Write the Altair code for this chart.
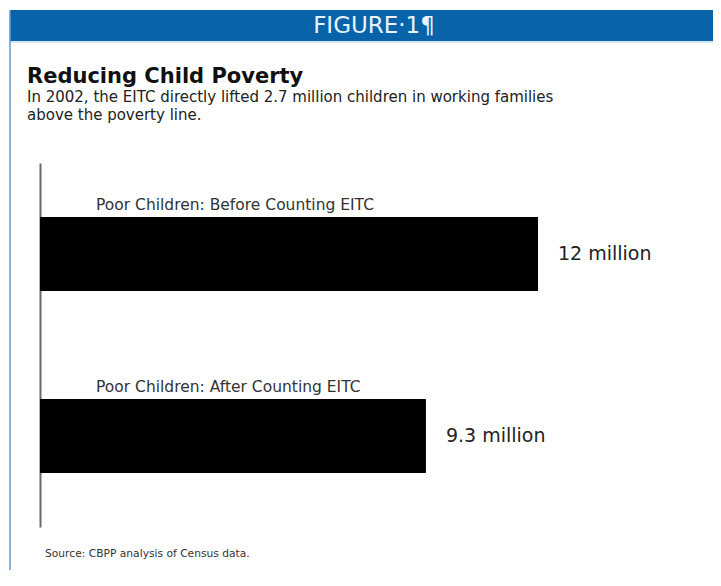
import altair as alt
import pandas as pd

# ---- data ----
categories = ["Poor Children: Before Counting EITC", "Poor Children: After Counting EITC"]
values = [12, 9.3]
value_labels = ["12 million", "9.3 million"]

header_text = ["FIGURE·1¶"]
title_text = ["Reducing Child Poverty"]
subtitle_lines = [
    "In 2002, the EITC directly lifted 2.7 million children in working families",
    "above the poverty line.",
]
source_text = ["Source: CBPP analysis of Census data."]

df = pd.DataFrame({"label": categories, "value": values, "display": value_labels})

FONT = "DejaVu Sans"
BLUE = "#0863a9"

x_enc = alt.X("value:Q", scale=alt.Scale(domain=[0, 16], nice=False), axis=None)
y_enc = alt.Y(
    "label:N",
    sort=None,
    scale=alt.Scale(paddingInner=0.593, paddingOuter=0.297),
    axis=alt.Axis(labels=False, ticks=False, title=None, grid=False,
                  domain=True, domainColor="#6a6a6a", domainWidth=2),
)

bars = alt.Chart(df).mark_bar(color="#000000").encode(x=x_enc, y=y_enc)

cat_labels = alt.Chart(df).mark_text(
    align="left", baseline="alphabetic", dx=56, dy=-44,
    fontSize=15.5, font=FONT, color="#333333"
).encode(x=alt.datum(0), y=alt.Y("label:N", sort=None), text="label:N")

val_labels = alt.Chart(df).mark_text(
    align="left", baseline="middle", dx=20,
    fontSize=19, font=FONT, color="#222222"
).encode(x="value:Q", y=alt.Y("label:N", sort=None), text="display:N")

# ---- decoration ----
one = pd.DataFrame({"k": [0]})
band = alt.Chart(one).mark_rect(color=BLUE).encode(
    x=alt.value(-30), x2=alt.value(675), y=alt.value(-153), y2=alt.value(-122)
)
band_line = alt.Chart(one).mark_rule(color="#a9d1ea", strokeWidth=1).encode(
    x=alt.value(-30), x2=alt.value(675), y=alt.value(-121)
)
left_border = alt.Chart(one).mark_rule(color="#5d9ccf", strokeWidth=1.5).encode(
    x=alt.value(-30), y=alt.value(-153), y2=alt.value(410)
)

header = alt.Chart(pd.DataFrame({"t": header_text})).mark_text(
    align="center", baseline="alphabetic", fontSize=23,
    font=FONT, color="#e6f3ff"
).encode(text="t:N", x=alt.value(334), y=alt.value(-130))

title = alt.Chart(pd.DataFrame({"t": title_text})).mark_text(
    align="left", baseline="alphabetic", fontSize=21, fontWeight="bold",
    font=FONT, color="#111111"
).encode(text="t:N", x=alt.value(-13), y=alt.value(-80))

sub1 = alt.Chart(pd.DataFrame({"t": subtitle_lines[:1]})).mark_text(
    align="left", baseline="alphabetic", fontSize=15, font=FONT, color="#222222"
).encode(text="t:N", x=alt.value(-13), y=alt.value(-61))

sub2 = alt.Chart(pd.DataFrame({"t": subtitle_lines[1:]})).mark_text(
    align="left", baseline="alphabetic", fontSize=15, font=FONT, color="#222222"
).encode(text="t:N", x=alt.value(-13), y=alt.value(-43))

source = alt.Chart(pd.DataFrame({"t": source_text})).mark_text(
    align="left", baseline="alphabetic", fontSize=10.7, font=FONT, color="#333333"
).encode(text="t:N", x=alt.value(5), y=alt.value(394))

chart = alt.layer(
    band, band_line, left_border, header, title, sub1, sub2, source,
    bars, cat_labels, val_labels
).properties(
    width=664, height=364,
    padding={"left": 32, "top": 155, "right": 9, "bottom": 43},
    autosize=alt.AutoSizeParams(type="none"),
    background="#ffffff",
).configure_view(strokeWidth=0)

chart.save("out.html", embed_options={"renderer": "svg", "actions": False})
